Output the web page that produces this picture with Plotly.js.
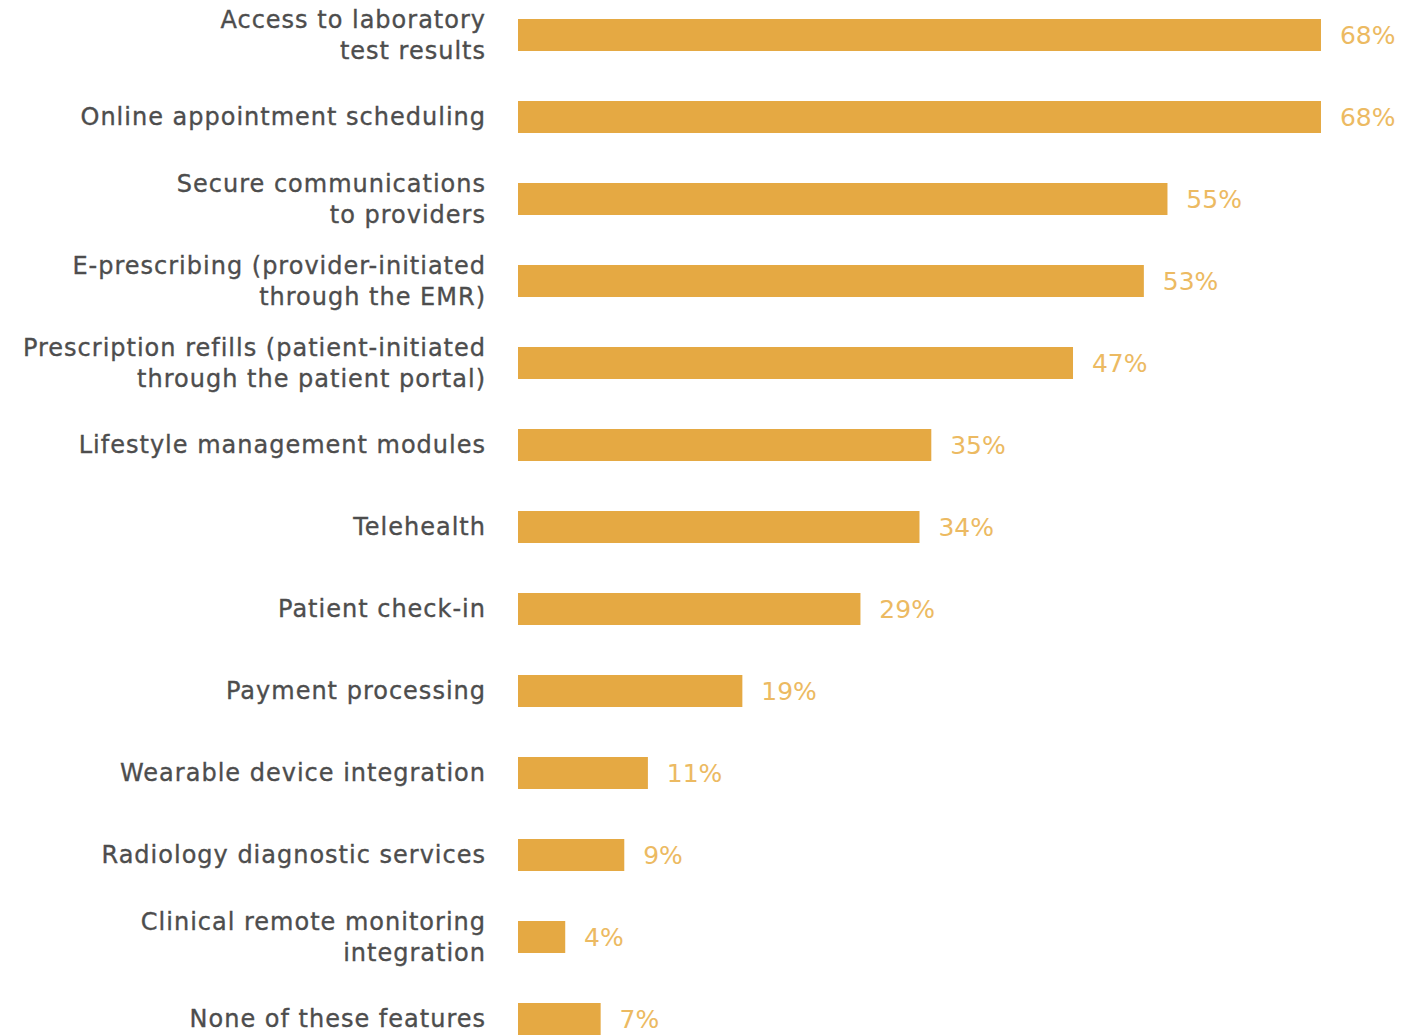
<!DOCTYPE html>
<html>
<head>
<meta charset="utf-8">
<script src="https://cdn.plot.ly/plotly-3.0.1.min.js"></script>
<style>
html,body{margin:0;padding:0;background:#fff;}
#chart{width:1419px;height:1035px;}
#chart .ytick text{letter-spacing:1px;stroke:#4d4d4d;stroke-width:0.35px;}
#chart .textpoint text{letter-spacing:1px;}
</style>
</head>
<body>
<div id="chart"></div>
<script>
const categories = [
  "Access to laboratory<br>test results",
  "Online appointment scheduling",
  "Secure communications<br>to providers",
  "E-prescribing (provider-initiated<br>through the EMR)",
  "Prescription refills (patient-initiated<br>through the patient portal)",
  "Lifestyle management modules",
  "Telehealth",
  "Patient check-in",
  "Payment processing",
  "Wearable device integration",
  "Radiology diagnostic services",
  "Clinical remote monitoring<br>integration",
  "None of these features"
];
const values = [68, 68, 55, 53, 47, 35, 34, 29, 19, 11, 9, 4, 7];
const valueLabels = values.map(v => "\u00a0\u00a0" + v + "%");

const trace = {
  type: "bar",
  orientation: "h",
  x: values,
  y: categories,
  text: valueLabels,
  textposition: "outside",
  textfont: {family: "DejaVu Sans, sans-serif", size: 25, color: "#ECBA62"},
  cliponaxis: false,
  marker: {color: "#E5A943"},
  width: 0.39,
  hoverinfo: "none"
};

const layout = {
  width: 1419,
  height: 1035,
  margin: {l: 518, r: 0, t: 0, b: 0, pad: 0},
  paper_bgcolor: "#ffffff",
  plot_bgcolor: "#ffffff",
  showlegend: false,
  xaxis: {
    range: [0, 76.3],
    visible: false,
    showgrid: false,
    zeroline: false
  },
  yaxis: {
    type: "category",
    range: [12.195, -0.427],
    showgrid: false,
    zeroline: false,
    showline: false,
    ticks: "",
    ticklabelstandoff: 31,
    tickfont: {family: "DejaVu Sans, sans-serif", size: 24, color: "#4d4d4d"}
  }
};

Plotly.newPlot("chart", [trace], layout, {staticPlot: true, displayModeBar: false});
</script>
</body>
</html>
